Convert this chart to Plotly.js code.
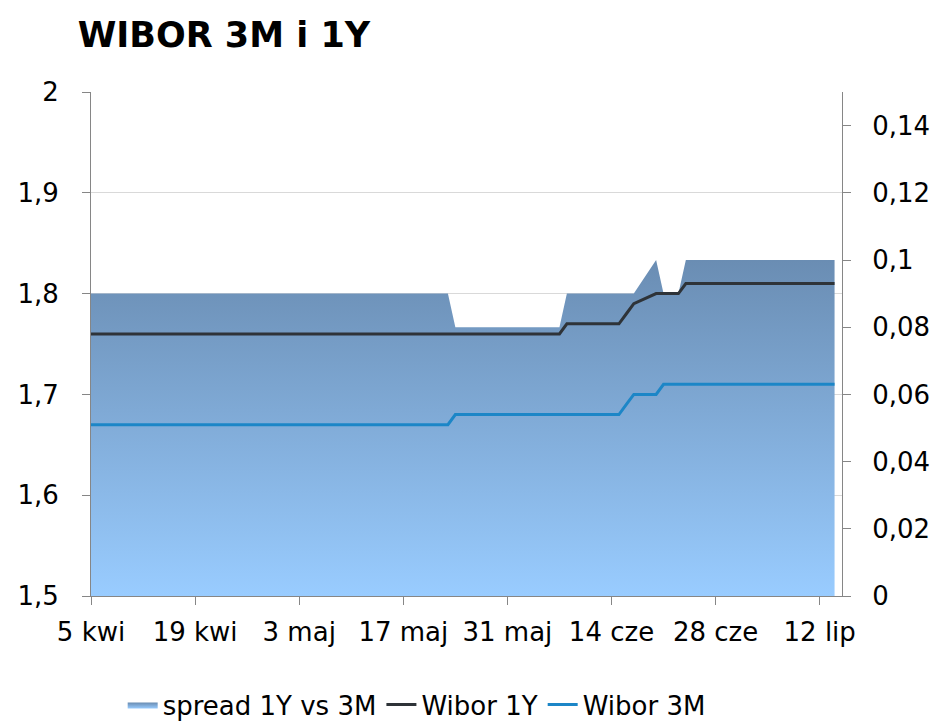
<!DOCTYPE html>
<html>
<head>
<meta charset="utf-8">
<script src="https://cdn.plot.ly/plotly-3.0.1.min.js"></script>
<style>
  html, body { margin: 0; padding: 0; background: #fff; }
  #chart { width: 947px; height: 728px; }
</style>
</head>
<body>
<div id="chart"></div>
<script>
// fixing days (business days), Apr - Jul 2016
let days = [
    '2016-04-05','2016-04-06','2016-04-07','2016-04-08',
    '2016-04-11','2016-04-12','2016-04-13','2016-04-14','2016-04-15',
    '2016-04-18','2016-04-19','2016-04-20','2016-04-21','2016-04-22',
    '2016-04-25','2016-04-26','2016-04-27','2016-04-28','2016-04-29',
    '2016-05-02','2016-05-04','2016-05-05','2016-05-06',
    '2016-05-09','2016-05-10','2016-05-11','2016-05-12','2016-05-13',
    '2016-05-16','2016-05-17','2016-05-18','2016-05-19','2016-05-20',
    '2016-05-23','2016-05-24','2016-05-25','2016-05-27',
    '2016-05-30','2016-05-31','2016-06-01','2016-06-02','2016-06-03',
    '2016-06-06','2016-06-07','2016-06-08','2016-06-09','2016-06-10',
    '2016-06-13','2016-06-14','2016-06-15','2016-06-16','2016-06-17',
    '2016-06-20','2016-06-21','2016-06-22','2016-06-23','2016-06-24',
    '2016-06-27','2016-06-28','2016-06-29','2016-06-30','2016-07-01',
    '2016-07-04','2016-07-05','2016-07-06','2016-07-07','2016-07-08',
    '2016-07-11','2016-07-12','2016-07-13','2016-07-14'
];

let wibor_1y = [
    1.76, 1.76, 1.76, 1.76,
    1.76, 1.76, 1.76, 1.76, 1.76,
    1.76, 1.76, 1.76, 1.76, 1.76,
    1.76, 1.76, 1.76, 1.76, 1.76,
    1.76, 1.76, 1.76, 1.76,
    1.76, 1.76, 1.76, 1.76, 1.76,
    1.76, 1.76, 1.76, 1.76, 1.76,
    1.76, 1.76, 1.76, 1.76,
    1.76, 1.76, 1.76, 1.76, 1.76,
    1.76, 1.76, 1.77, 1.77, 1.77,
    1.77, 1.77, 1.77, 1.78, 1.79,
    1.80, 1.80, 1.80, 1.80, 1.81,
    1.81, 1.81, 1.81, 1.81, 1.81,
    1.81, 1.81, 1.81, 1.81, 1.81,
    1.81, 1.81, 1.81, 1.81
];

let wibor_3m = [
    1.67, 1.67, 1.67, 1.67,
    1.67, 1.67, 1.67, 1.67, 1.67,
    1.67, 1.67, 1.67, 1.67, 1.67,
    1.67, 1.67, 1.67, 1.67, 1.67,
    1.67, 1.67, 1.67, 1.67,
    1.67, 1.67, 1.67, 1.67, 1.67,
    1.67, 1.67, 1.67, 1.67, 1.67,
    1.67, 1.68, 1.68, 1.68,
    1.68, 1.68, 1.68, 1.68, 1.68,
    1.68, 1.68, 1.68, 1.68, 1.68,
    1.68, 1.68, 1.68, 1.69, 1.70,
    1.70, 1.71, 1.71, 1.71, 1.71,
    1.71, 1.71, 1.71, 1.71, 1.71,
    1.71, 1.71, 1.71, 1.71, 1.71,
    1.71, 1.71, 1.71, 1.71
];

let spread = [
    0.09, 0.09, 0.09, 0.09,
    0.09, 0.09, 0.09, 0.09, 0.09,
    0.09, 0.09, 0.09, 0.09, 0.09,
    0.09, 0.09, 0.09, 0.09, 0.09,
    0.09, 0.09, 0.09, 0.09,
    0.09, 0.09, 0.09, 0.09, 0.09,
    0.09, 0.09, 0.09, 0.09, 0.09,
    0.09, 0.08, 0.08, 0.08,
    0.08, 0.08, 0.08, 0.08, 0.08,
    0.08, 0.08, 0.09, 0.09, 0.09,
    0.09, 0.09, 0.09, 0.09, 0.09,
    0.10, 0.09, 0.09, 0.09, 0.10,
    0.10, 0.10, 0.10, 0.10, 0.10,
    0.10, 0.10, 0.10, 0.10, 0.10,
    0.10, 0.10, 0.10, 0.10
];

let tick_days = ['2016-04-05','2016-04-19','2016-05-03','2016-05-17',
                 '2016-05-31','2016-06-14','2016-06-28','2016-07-12'];
let tick_names = ['5 kwi','19 kwi','3 maj','17 maj','31 maj','14 cze','28 cze','12 lip'];

let font_family = 'DejaVu Sans, Verdana, sans-serif';
let axis_grey = '#868686';

// area sits on the base axis (right scale) so the lines on y2 are drawn above it
let spread_trace = {
    x: days,
    y: spread,
    type: 'scatter',
    mode: 'lines',
    fill: 'tozeroy',
    line: { width: 0, color: '#7FA6D0' },
    fillgradient: {
        type: 'vertical',
        start: 0,
        stop: 0.1,
        colorscale: [[0, '#99CCFF'], [1, '#6A8DB3']]
    },
    name: 'spread 1Y vs 3M',
    legendgroup: 'g1',
    yaxis: 'y'
};

let wibor_1y_trace = {
    x: days,
    y: wibor_1y,
    type: 'scatter',
    mode: 'lines',
    line: { width: 3, color: '#2E3338' },
    name: 'Wibor 1Y',
    legendgroup: 'g2',
    yaxis: 'y2'
};

let wibor_3m_trace = {
    x: days,
    y: wibor_3m,
    type: 'scatter',
    mode: 'lines',
    line: { width: 3, color: '#1C86C7' },
    name: 'Wibor 3M',
    legendgroup: 'g3',
    yaxis: 'y2'
};

let layout = {
    width: 947,
    height: 728,
    margin: { l: 91, r: 105, t: 92, b: 132 },
    paper_bgcolor: '#ffffff',
    plot_bgcolor: '#ffffff',
    separators: ', ',
    font: { family: font_family, size: 24, color: '#000000' },
    showlegend: true,
    title: {
        text: 'WIBOR 3M i 1Y',
        font: { family: font_family, size: 35, color: '#000000', weight: 'bold' },
        xref: 'container',
        x: 0.082,
        xanchor: 'left',
        yref: 'container',
        y: 0.952,
        yanchor: 'middle'
    },
    xaxis: {
        type: 'date',
        range: ['2016-04-05', '2016-07-15'],
        tickvals: tick_days,
        ticktext: tick_names,
        showgrid: false,
        zeroline: false,
        showline: true,
        linecolor: axis_grey,
        linewidth: 1,
        ticks: 'outside',
        ticklen: 8,
        tickcolor: axis_grey,
        ticklabelstandoff: 5,
        tickfont: { size: 26 }
    },
    yaxis: {
        side: 'right',
        range: [0, 0.15],
        tick0: 0,
        dtick: 0.02,
        showgrid: false,
        zeroline: false,
        showline: true,
        linecolor: axis_grey,
        ticks: 'outside',
        ticklen: 8,
        tickcolor: axis_grey,
        ticklabelstandoff: 16,
        tickfont: { size: 26 }
    },
    yaxis2: {
        side: 'left',
        overlaying: 'y',
        range: [1.5, 2],
        tick0: 1.5,
        dtick: 0.1,
        showgrid: true,
        gridcolor: '#D9D9D9',
        zeroline: false,
        showline: true,
        linecolor: axis_grey,
        ticks: 'outside',
        ticklen: 8,
        tickcolor: axis_grey,
        ticklabelstandoff: 18,
        tickfont: { size: 26 }
    },
    legend: {
        orientation: 'h',
        xref: 'container',
        x: 0.44,
        xanchor: 'center',
        yref: 'container',
        y: 0.032,
        yanchor: 'middle',
        font: { size: 26 },
        bgcolor: 'rgba(0,0,0,0)',
        itemwidth: 30,
        tracegroupgap: 24
    }
};

Plotly.newPlot('chart', [spread_trace, wibor_1y_trace, wibor_3m_trace], layout, { staticPlot: true });
</script>
</body>
</html>
